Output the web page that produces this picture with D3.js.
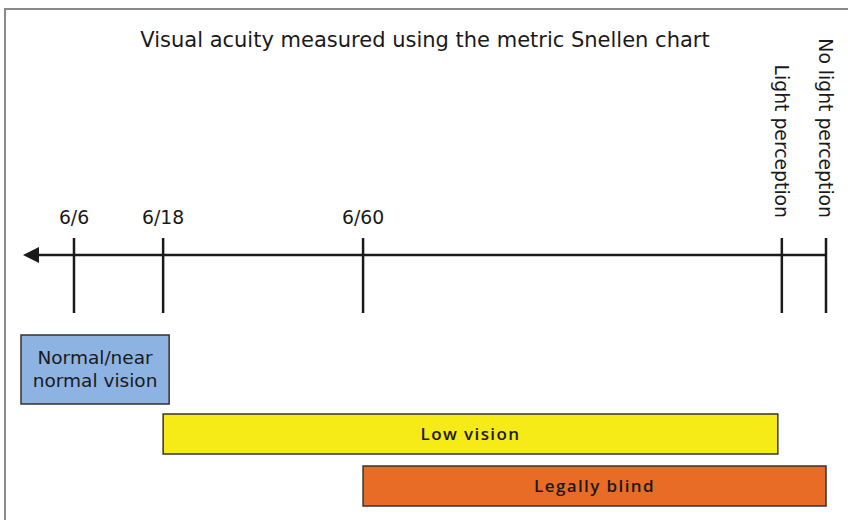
<!DOCTYPE html>
<html>
<head>
<meta charset="utf-8">
<script src="https://cdn.jsdelivr.net/npm/d3@7/dist/d3.min.js"></script>
<style>
  body { margin: 0; background: #fff; }
  svg { display: block; font-family: "DejaVu Sans", sans-serif; }
</style>
</head>
<body>
<div id="chart"></div>
<script>
// tick marks along the acuity line (position in axis units, 0..100)
var tickLabels = ["6/6", "6/18", "6/60", "Light perception", "No light perception"];
var tickPos = [6.35, 17.45, 42.35, 94.5, 100];
var tickRotated = [false, false, false, true, true];

// category bands
var bandNames = [["Normal/near", "normal vision"], ["Low vision"], ["Legally blind"]];
var bandStart = [-0.25, 17.45, 42.35];
var bandEnd = [18.2, 94.0, 100];
var bandColors = ["#8db3e2", "#f6eb16", "#e86c25"];

var title = "Visual acuity measured using the metric Snellen chart";

var width = 848, height = 520;

var svg = d3.select("#chart")
	.append("svg")
		.attr("width", width)
		.attr("height", height);

// frame
svg.append("path")
	.attr("d", "M5,520 V9 H848")
	.attr("fill", "none")
	.attr("stroke", "#8a8a8a")
	.attr("stroke-width", 2);

svg.append("text")
	.attr("x", 425)
	.attr("y", 47)
	.attr("text-anchor", "middle")
	.attr("font-size", "21px")
	.attr("fill", "#1a1a1a")
	.text(title);

var x = d3.scaleLinear()
	.domain([0, 100])
	.range([23, 826]);

var axisY = 255;

// main line with arrow on the left
svg.append("line")
	.attr("x1", x(0) + 10)
	.attr("x2", x(100))
	.attr("y1", axisY)
	.attr("y2", axisY)
	.attr("stroke", "#1a1a1a")
	.attr("stroke-width", 2.5);

svg.append("path")
	.attr("d", "M" + x(0) + "," + axisY + " l16,-8 v16 z")
	.attr("fill", "#1a1a1a");

var ticks = svg.selectAll("g.tick")
	.data(tickLabels)
	.enter()
	.append("g")
		.attr("class", "tick")
		.attr("transform", function(d, i){ return "translate(" + x(tickPos[i]) + ",0)"; });

ticks.append("line")
	.attr("y1", 238)
	.attr("y2", 313)
	.attr("stroke", "#1a1a1a")
	.attr("stroke-width", 2.5);

ticks.append("text")
	.attr("font-size", "18.8px")
	.attr("fill", "#1a1a1a")
	.attr("text-anchor", function(d, i){ return tickRotated[i] ? "end" : "middle"; })
	.attr("transform", function(d, i){
		return tickRotated[i] ? "translate(-7,218) rotate(90)" : "translate(0,224)";
	})
	.text(function(d){ return d; });

// bands
var rowTop = [335, 414, 466];
var rowH = [69, 40, 40];

var bands = svg.selectAll("g.band")
	.data(bandNames)
	.enter()
	.append("g")
		.attr("class", "band");

bands.append("rect")
	.attr("x", function(d, i){ return x(bandStart[i]); })
	.attr("y", function(d, i){ return rowTop[i]; })
	.attr("width", function(d, i){ return x(bandEnd[i]) - x(bandStart[i]); })
	.attr("height", function(d, i){ return rowH[i]; })
	.attr("fill", function(d, i){ return bandColors[i]; })
	.attr("stroke", "#333")
	.attr("stroke-width", 1.5);

bands.append("text")
	.attr("text-anchor", "middle")
	.attr("font-size", function(d, i){ return i == 0 ? "18.5px" : "17px"; })
	.attr("font-family", function(d, i){ return i == 0 ? null : "'Open Sans', sans-serif"; })
	.attr("font-weight", function(d, i){ return i == 0 ? 400 : 600; })
	.attr("letter-spacing", function(d, i){ return i == 0 ? null : "1.4px"; })
	.attr("fill", "#1a1a1a")
	.attr("x", function(d, i){ return (x(bandStart[i]) + x(bandEnd[i])) / 2; })
	.attr("y", function(d, i){ return i == 0 ? rowTop[i] + 29 : rowTop[i] + 26; })
	.selectAll("tspan")
	.data(function(d){ return d; })
	.enter()
	.append("tspan")
		.attr("x", function(){ return d3.select(this.parentNode).attr("x"); })
		.attr("dy", function(d, j){ return j == 0 ? 0 : 23; })
		.text(function(d){ return d; });
</script>
</body>
</html>
